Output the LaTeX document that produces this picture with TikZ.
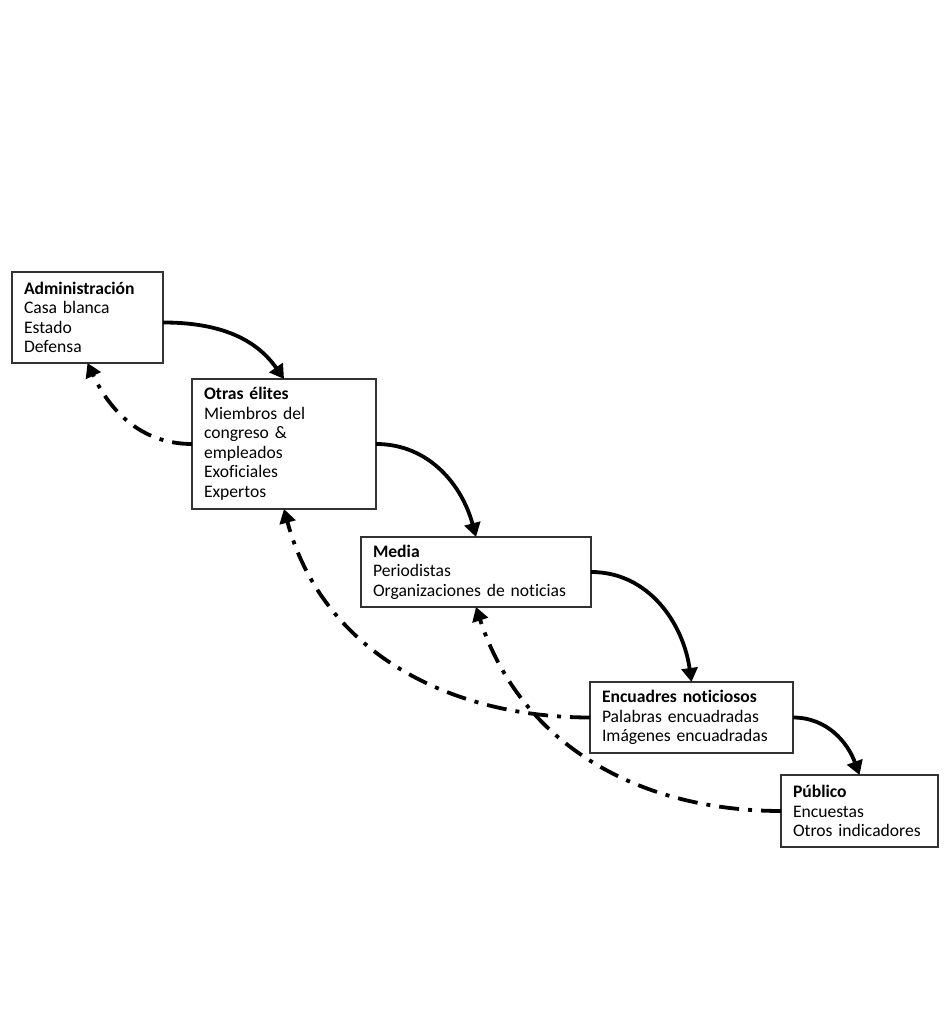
\documentclass[tikz,border=0pt]{standalone}
\usepackage{fontspec}
\setmainfont{Carlito}[Ligatures=NoCommon]
\usetikzlibrary{positioning}
\usetikzlibrary{arrows.meta}

\begin{document}
\begin{tikzpicture}[
        x = 1pt, y = 1pt,
        caja/.style 2 args = {
            draw = black!80,
            line width = 1.2pt,
            text width = #1,
            minimum height = #2,
            inner xsep = 12pt,
            inner ysep = 0pt,
            outer sep = 0pt,
            align = left,
            anchor = north west,
            font = \fontsize{17.6}{19.5}\selectfont
        },
        flujo/.style = {
            line width = 3.8pt,
            -{Triangle[width=16pt, length=14pt]}
        },
        retorno/.style = {
            flujo,
            dash pattern = on 20pt off 9pt on 4pt off 9pt
        }
    ]
    \useasboundingbox (0,0) rectangle (943,1023);

    \node[caja={127pt}{91pt}] (1) at (12,751)
        {\textbf{Administración}\\Casa blanca\\Estado\\Defensa};
    \node[caja={160pt}{130pt}, below right=16pt and 29pt of 1] (2)
        {\textbf{Otras élites}\\Miembros del\\congreso \&\\empleados\\Exoficiales\\Expertos};
    \node[caja={206pt}{70pt}, below right=28pt and -15pt of 2] (3)
        {\textbf{Media}\\Periodistas\\Organizaciones de noticias};
    \node[caja={179pt}{71pt}, below right=75pt and -1pt of 3] (4)
        {\textbf{Encuadres noticiosos}\\Palabras encuadradas\\Imágenes encuadradas};
    \node[caja={133pt}{72pt}, below right=22pt and -12pt of 4] (5)
        {\textbf{Público}\\Encuestas\\Otros indicadores};

    \draw[flujo] ([yshift=-5pt]1.east) to[out=0, in=125] (2.north);
    \draw[flujo] (2.east) to[out=0, in=105] (3.north);
    \draw[flujo] (3.east) to[out=0, in=98] (4.north);
    \draw[flujo] (4.east) to[out=0, in=110] (5.north);

    \draw[retorno] (2.west) to[out=180, in=-65] (1.south);
    \draw[retorno] (4.west) to[out=180, in=-75] (2.south);
    \draw[retorno] (5.west) to[out=180, in=-72] (3.south);
\end{tikzpicture}
\end{document}
